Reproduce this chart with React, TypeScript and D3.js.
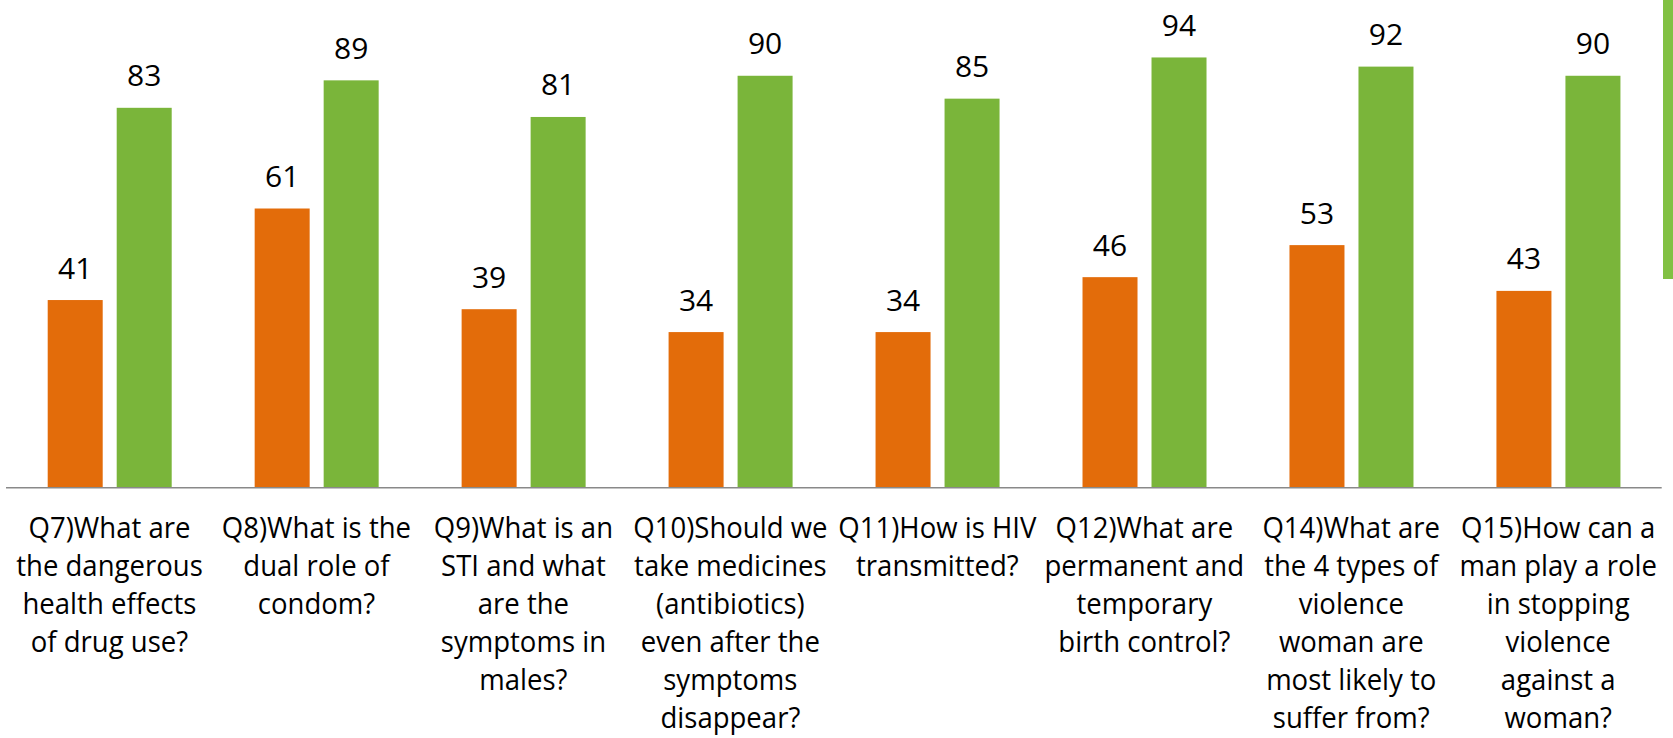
import React from "react";
import * as d3 from "d3";

const categories = ["Q7", "Q8", "Q9", "Q10", "Q11", "Q12", "Q14", "Q15"];
const categoryLabels: string[][] = [
  ["Q7)What are", "the dangerous", "health effects", "of drug use?"],
  ["Q8)What is the", "dual role of", "condom?"],
  ["Q9)What is an", "STI and what", "are the", "symptoms in", "males?"],
  ["Q10)Should we", "take medicines", "(antibiotics)", "even after the", "symptoms", "disappear?"],
  ["Q11)How is HIV", "transmitted?"],
  ["Q12)What are", "permanent and", "temporary", "birth control?"],
  ["Q14)What are", "the 4 types of", "violence", "woman are", "most likely to", "suffer from?"],
  ["Q15)How can a", "man play a role", "in stopping", "violence", "against a", "woman?"],
];
const seriesNames = ["Pre", "Post"];
const preValues = [41, 61, 39, 34, 34, 46, 53, 43];
const postValues = [83, 89, 81, 90, 85, 94, 92, 90];
const colors = ["#E36C0A", "#7AB53A"];

const W = 1673;
const H = 738;
const baseY = 487.7;
const topY = 30;
const left = 6;
const right = 1661.7;

export default function App() {
  const x0 = d3.scaleBand<string>().domain(categories).range([left, right]).padding(0);
  const x1 = d3
    .scaleBand<string>()
    .domain(seriesNames)
    .range([41.7, 41.7 + 124])
    .paddingInner(14 / 69)
    .paddingOuter(0);
  const y = d3.scaleLinear().domain([0, 100]).range([baseY, topY]);
  const series = [preValues, postValues];

  return (
    <svg
      width={W}
      height={H}
      style={{ position: "absolute", left: 0, top: 0, background: "#fff" }}
      fontFamily="'Open Sans', 'Noto Sans', sans-serif"
    >
      <rect x={1663} y={0} width={10} height={279} fill="#82C143" />
      {categories.map((c, i) => (
        <g key={c} transform={`translate(${x0(c)},0)`}>
          {series.map((vals, s) => {
            const sx = x1(seriesNames[s])!;
            const bw = x1.bandwidth();
            const v = vals[i];
            return (
              <g key={s}>
                <rect x={sx} y={y(v)} width={bw} height={baseY - y(v)} fill={colors[s]} />
                <text
                  x={sx + bw / 2}
                  y={y(v) - 21.5}
                  textAnchor="middle"
                  fontSize={30}
                  fill="#000"
                >
                  {v}
                </text>
              </g>
            );
          })}
        </g>
      ))}
      <line x1={left} x2={right} y1={baseY} y2={baseY} stroke="#898989" strokeWidth={1.6} />
      {categories.map((c, i) => {
        const cx = x0(c)! + x0.bandwidth() / 2;
        return (
          <g key={c} transform={`translate(${cx},0) scale(0.95,1)`}>
            {categoryLabels[i].map((line, k) => (
              <text key={k} x={0} y={538 + k * 38} textAnchor="middle" fontSize={29} fill="#000">
                {line}
              </text>
            ))}
          </g>
        );
      })}
    </svg>
  );
}
